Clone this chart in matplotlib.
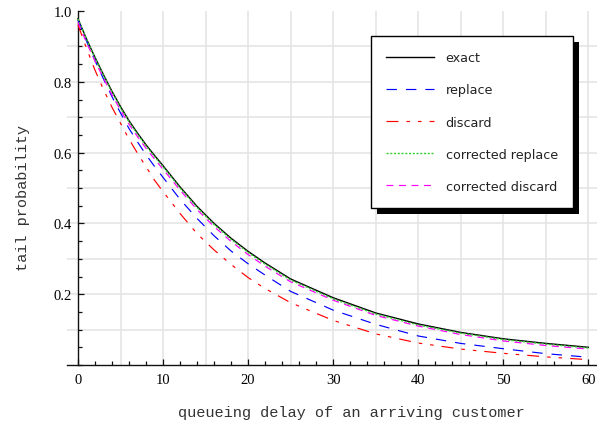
import matplotlib
matplotlib.use("Agg")
import matplotlib.pyplot as plt
from matplotlib.patches import Rectangle
from matplotlib.ticker import MultipleLocator, FixedLocator

plt.rcParams['lines.scale_dashes'] = False

# ---- data ----
x = [0, 1, 2, 3, 4, 5, 6, 7, 8, 9, 10, 12, 14, 16, 18, 20, 22, 25, 30, 35, 40, 45, 50, 55, 60]
exact = [0.978, 0.921, 0.869, 0.820, 0.773, 0.730, 0.690, 0.655, 0.622, 0.592, 0.563,
         0.503, 0.448, 0.400, 0.358, 0.321, 0.288, 0.243, 0.190, 0.147, 0.116, 0.092,
         0.074, 0.061, 0.050]
replace = [0.975, 0.915, 0.860, 0.808, 0.758, 0.712, 0.668, 0.630, 0.594, 0.561, 0.530,
           0.468, 0.414, 0.365, 0.322, 0.286, 0.254, 0.208, 0.155, 0.115, 0.082, 0.061,
           0.046, 0.032, 0.022]
discard = [0.961, 0.895, 0.833, 0.778, 0.728, 0.683, 0.638, 0.598, 0.560, 0.522, 0.490,
           0.428, 0.371, 0.325, 0.284, 0.247, 0.216, 0.176, 0.126, 0.088, 0.062, 0.045,
           0.033, 0.023, 0.015]
corr_replace = [0.978, 0.920, 0.867, 0.818, 0.771, 0.727, 0.687, 0.652, 0.619, 0.589, 0.560,
                0.500, 0.445, 0.397, 0.355, 0.318, 0.285, 0.240, 0.187, 0.144, 0.113, 0.090,
                0.072, 0.059, 0.048]
corr_discard = [0.968, 0.911, 0.859, 0.810, 0.763, 0.720, 0.680, 0.645, 0.612, 0.582, 0.553,
                0.494, 0.439, 0.391, 0.349, 0.312, 0.279, 0.235, 0.183, 0.140, 0.110, 0.086,
                0.068, 0.055, 0.045]
labels = ["exact", "replace", "discard", "corrected replace", "corrected discard"]
xticks = [0, 10, 20, 30, 40, 50, 60]
yticks = [0.2, 0.4, 0.6, 0.8, 1.0]
xgrid = [5, 10, 15, 20, 25, 30, 35, 40, 45, 50, 55, 60]
ygrid = [0.1, 0.2, 0.3, 0.4, 0.5, 0.6, 0.7, 0.8, 0.9]

fig = plt.figure(figsize=(5.97, 4.31), dpi=100)
ax = fig.add_axes([67/597, 65/431, 530/597, 354/431])
ax.set_xlim(-1.29, 61.02)
ax.set_ylim(0, 1.0)

gc = '#e3e3e3'
ax.vlines(xgrid, 0, 1, colors=gc, lw=1.1, zorder=0)
ax.hlines(ygrid, -1.29, 61.02, colors=gc, lw=1.1, zorder=0)

lw = 0.85
ax.plot(x, exact, color='black', lw=1.0, label=labels[0], zorder=3)
ax.plot(x, replace, color='#0000ff', lw=lw, dashes=(7.5, 6.5), label=labels[1], zorder=3)
ax.plot(x, discard, color='#ff0000', lw=lw, dashes=(8.6, 5.8, 2.5, 5.8, 2.5, 5.8), label=labels[2], zorder=3)
ax.plot(x, corr_replace, color='#33cc33', lw=1.0, dashes=(1.5, 1.2), label=labels[3], zorder=3)
ax.plot(x, corr_discard, color='#ff00ff', lw=lw, dashes=(5, 4), label=labels[4], zorder=3)

for s in ['top', 'right']:
    ax.spines[s].set_visible(False)
ax.spines['left'].set_position(('data', 0))
ax.spines['bottom'].set_position(('data', 0))
for s in ['left', 'bottom']:
    ax.spines[s].set_linewidth(1.0)
    ax.spines[s].set_color('#111111')

ax.xaxis.set_major_locator(FixedLocator(xticks))
ax.yaxis.set_major_locator(FixedLocator(yticks))
ax.xaxis.set_minor_locator(MultipleLocator(2))
ax.yaxis.set_minor_locator(MultipleLocator(0.05))
ax.set_xticklabels([str(v) for v in xticks])
ax.set_yticklabels([f"{v:.1f}" for v in yticks])
ax.tick_params(which='both', direction='in', width=0.9, color='#111111')
ax.tick_params(which='major', length=4.5)
ax.tick_params(which='minor', length=2.8)
ax.tick_params(axis='x', which='major', pad=6)
ax.tick_params(axis='y', which='major', pad=4.3)
for t in ax.get_xticklabels() + ax.get_yticklabels():
    t.set_fontfamily('Liberation Serif')
    t.set_fontsize(10.5)

ax.set_xlabel("queueing delay of an arriving customer", family='Liberation Mono', fontsize=11, color='#333333')
ax.set_ylabel("tail probability", family='Liberation Mono', fontsize=11, color='#333333')
ax.xaxis.set_label_coords(0.537, -0.113)
ax.yaxis.set_label_coords(-0.0700, 0.4746)

leg = fig.legend(loc='upper right', bbox_to_anchor=(573/597, 1 - 37/431), bbox_transform=fig.transFigure,
                 borderaxespad=0, prop={'family': 'DejaVu Sans', 'size': 9.2},
                 handlelength=3.7, handletextpad=0.94, borderpad=1.19, labelspacing=1.5,
                 fancybox=False, framealpha=1, edgecolor='black')
leg.get_frame().set_linewidth(1.0)
for t in leg.get_texts():
    t.set_color('#222222')

fig.canvas.draw()
bb = leg.get_window_extent()
W, H = fig.bbox.width, fig.bbox.height
sh = Rectangle(((bb.x0 + 6) / W, (bb.y0 - 6) / H), bb.width / W, bb.height / H,
               transform=fig.transFigure, facecolor='black', edgecolor='none', zorder=4)
fig.patches.append(sh)
leg.set_zorder(5)

fig.savefig("out.png", dpi=100)
